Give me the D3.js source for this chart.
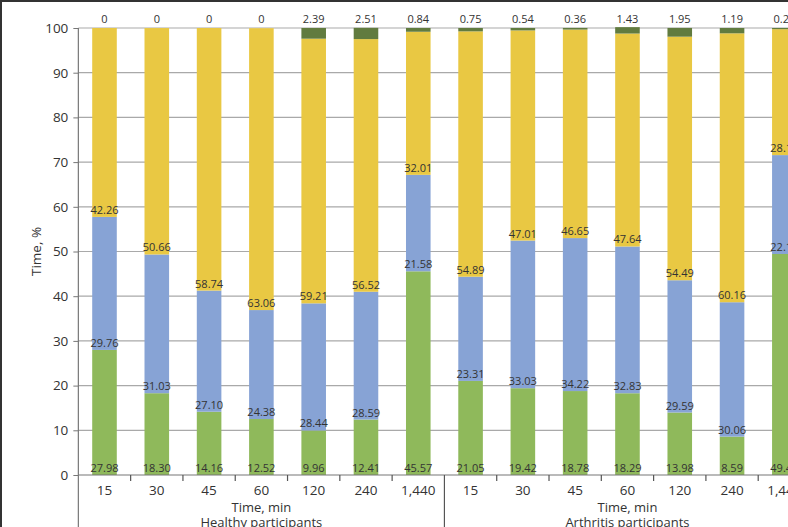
<!DOCTYPE html>
<html>
<head>
<meta charset="utf-8">
<script src="https://cdn.jsdelivr.net/npm/d3@7"></script>
<style>
  body { margin: 0; background: #fff; }
  svg { display: block; font-family: 'Open Sans', 'Noto Sans', sans-serif; }
</style>
</head>
<body>
<div id="chart"></div>
<script>
// data
const times = ['15', '30', '45', '60', '120', '240', '1,440']
const groups = ['Healthy participants', 'Arthritis participants']
const seriesNames = ['s1', 's2', 's3', 's4']
const seriesColors = ['#8fb95b', '#87a3d5', '#e9c843', '#617b3f']

// healthy then arthritis, 7 times each
const s1 = [27.98, 18.30, 14.16, 12.52, 9.96, 12.41, 45.57,
            21.05, 19.42, 18.78, 18.29, 13.98, 8.59, 49.44]
const s2 = [29.76, 31.03, 27.10, 24.38, 28.44, 28.59, 21.58,
            23.31, 33.03, 34.22, 32.83, 29.59, 30.06, 22.13]
const s3 = [42.26, 50.66, 58.74, 63.06, 59.21, 56.52, 32.01,
            54.89, 47.01, 46.65, 47.64, 54.49, 60.16, 28.17]
const s4 = [0, 0, 0, 0, 2.39, 2.51, 0.84,
            0.75, 0.54, 0.36, 1.43, 1.95, 1.19, 0.26]
const yTicks = [0, 10, 20, 30, 40, 50, 60, 70, 80, 90, 100]

const width = 788
const height = 527
const plot = { left: 78.35, right: 810.5, top: 28, bottom: 475 }

const rows = []
groups.forEach((g, gi) => {
  times.forEach((t, ti) => {
    const i = gi * times.length + ti
    rows.push({ key: g + '|' + t, group: g, time: t, s1: s1[i], s2: s2[i], s3: s3[i], s4: s4[i] })
  })
})

const stack = d3.stack().keys(seriesNames)(rows)

const x = d3.scaleBand()
  .domain(rows.map(d => d.key))
  .range([plot.left, plot.right])
  .paddingInner(0.53)
  .paddingOuter(0.265)

const y = d3.scaleLinear().domain([0, 100]).range([plot.bottom, plot.top])

const svg = d3.select('#chart').append('svg')
  .attr('width', width)
  .attr('height', height)

// gridlines
svg.append('g')
  .selectAll('line')
  .data(yTicks.slice(1))
  .join('line')
    .attr('x1', plot.left).attr('x2', width)
    .attr('y1', d => y(d)).attr('y2', d => y(d))
    .attr('stroke', '#a9a9a9')
    .attr('stroke-width', 1.2)

// bars
svg.append('g')
  .selectAll('g')
  .data(stack)
  .join('g')
    .attr('fill', (d, i) => seriesColors[i])
  .selectAll('rect')
  .data(d => d)
  .join('rect')
    .attr('x', d => x(d.data.key))
    .attr('width', x.bandwidth())
    .attr('y', d => y(d[1]))
    .attr('height', d => y(d[0]) - y(d[1]))

// value labels at the base of the first three segments
const labels = svg.append('g')
  .attr('font-size', 11)
  .attr('fill', '#333')
  .attr('text-anchor', 'middle')

stack.slice(0, 3).forEach(layer => {
  labels.append('g').selectAll('text')
    .data(layer)
    .join('text')
      .attr('x', d => x(d.data.key) + x.bandwidth() / 2)
      .attr('y', d => y(d[0]) - 3)
      .text(d => d3.format('.2f')(d[1] - d[0]))
})

// labels above the bars for the last segment
labels.append('g').selectAll('text')
  .data(stack[3])
  .join('text')
    .attr('x', d => x(d.data.key) + x.bandwidth() / 2)
    .attr('y', y(100) - 5)
    .text(d => { const v = d[1] - d[0]; return v === 0 ? '0' : d3.format('.2f')(v) })

// y axis
const yAxis = svg.append('g')
  .attr('transform', 'translate(' + plot.left + ',0)')
  .call(d3.axisLeft(y).tickValues(yTicks).tickSize(5).tickPadding(5))
yAxis.select('.domain').remove()
yAxis.selectAll('line').attr('stroke', '#777')
yAxis.selectAll('text').attr('font-size', 13.5).attr('fill', '#333')
yAxis.attr('font-family', null)

svg.append('line')
  .attr('x1', plot.left).attr('x2', plot.left)
  .attr('y1', plot.top).attr('y2', height)
  .attr('stroke', '#777').attr('stroke-width', 1.2)

// x axis
svg.append('line')
  .attr('x1', plot.left).attr('x2', width)
  .attr('y1', plot.bottom).attr('y2', plot.bottom)
  .attr('stroke', '#777').attr('stroke-width', 1.2)

const step = x.step()
svg.append('g')
  .selectAll('line')
  .data(rows.slice(1))
  .join('line')
    .attr('x1', d => x(d.key) - (step - x.bandwidth()) / 2)
    .attr('x2', d => x(d.key) - (step - x.bandwidth()) / 2)
    .attr('y1', plot.bottom)
    .attr('y2', (d, i) => (i + 1) % times.length === 0 ? height : plot.bottom + 6)
    .attr('stroke', '#555')
    .attr('stroke-width', 1.2)

svg.append('g')
  .attr('font-size', 13.5)
  .attr('fill', '#333')
  .attr('text-anchor', 'middle')
  .selectAll('text')
  .data(rows)
  .join('text')
    .attr('x', d => x(d.key) + x.bandwidth() / 2)
    .attr('y', 495)
    .text(d => d.time)

// group titles
const gTitles = svg.append('g')
  .attr('font-size', 13)
  .attr('fill', '#333')
  .attr('text-anchor', 'middle')

groups.forEach((g, gi) => {
  const cx = plot.left + step * times.length * (gi + 0.5)
  gTitles.append('text').attr('x', cx).attr('y', 512).text('Time, min')
  gTitles.append('text').attr('x', cx).attr('y', 527).text(g)
})

// y title
svg.append('text')
  .attr('transform', 'translate(41,' + y(50) + ') rotate(-90)')
  .attr('text-anchor', 'middle')
  .attr('font-size', 13.5)
  .attr('fill', '#333')
  .text('Time, %')

// frame
svg.append('line').attr('x1', 0).attr('x2', width).attr('y1', 1).attr('y2', 1)
  .attr('stroke', '#333').attr('stroke-width', 2)
svg.append('line').attr('x1', 1).attr('x2', 1).attr('y1', 0).attr('y2', height)
  .attr('stroke', '#333').attr('stroke-width', 2)
</script>
</body>
</html>
